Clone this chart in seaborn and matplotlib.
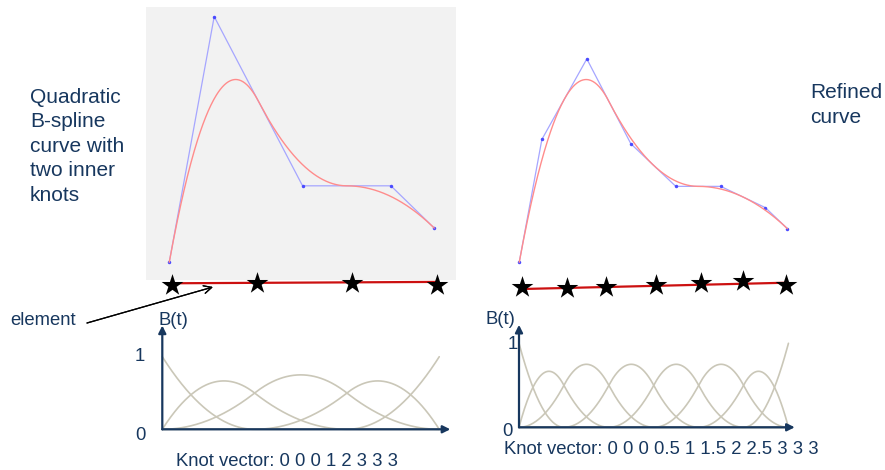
import numpy as np
import matplotlib.pyplot as plt
import seaborn as sns

# quadratic B-spline, two inner knots
ctrl_x = [0.75, 2.2, 5.05, 7.9, 9.3]
ctrl_y = [0.65, 9.65, 3.45, 3.45, 1.9]
knots = [0, 0, 0, 1, 2, 3, 3, 3]

# refined curve (knots inserted at 0.5, 1.5, 2.5)
ref_x = [0.75, 1.48, 2.93, 4.35, 5.8, 7.25, 8.69, 9.4]
ref_y = [0.65, 5.15, 8.1, 4.99, 3.43, 3.43, 2.65, 1.88]
ref_knots = [0, 0, 0, 0.5, 1, 1.5, 2, 2.5, 3, 3, 3]

# element boundaries drawn as stars under each curve
star_x = [0.83, 3.57, 6.65, 9.38]
star_y = [-0.18, -0.12, -0.1, -0.2]
elem_y = [-0.12, -0.07]
ref_star_x = [0.84, 2.28, 3.55, 5.16, 6.62, 7.98, 9.35]
ref_star_y = [-0.27, -0.3, -0.25, -0.18, -0.12, -0.03, -0.18]
ref_elem_y = [-0.33, -0.1]

knot_label = "Knot vector: 0 0 0 1 2 3 3 3"
ref_knot_label = "Knot vector: 0 0 0 0.5 1 1.5 2 2.5 3 3 3"
left_title = ["Quadratic", "B-spline", "curve with", "two inner", "knots"]
right_title = ["Refined", "curve"]

NAVY = "#17375e"
BASIS_C = "#cac7b8"
CURVE_C = "#ff8c8c"
POLY_C = "#a6a6ff"


def basis(kn, p, t):
    kn = np.asarray(kn, float)
    n = len(kn) - p - 1
    t = np.minimum(t, kn[-1] - 1e-9)
    N = np.zeros((len(kn) - 1, len(t)))
    for i in range(len(kn) - 1):
        N[i] = (kn[i] <= t) & (t < kn[i + 1])
    for d in range(1, p + 1):
        for i in range(len(kn) - d - 1):
            a = kn[i + d] - kn[i]
            b = kn[i + d + 1] - kn[i + 1]
            left = (t - kn[i]) / a * N[i] if a > 0 else 0
            right = (kn[i + d + 1] - t) / b * N[i + 1] if b > 0 else 0
            N[i] = left + right
    return N[:n]


sns.set_theme(style="white")
plt.rcParams["font.family"] = ["Liberation Sans", "DejaVu Sans"]

W, H = 885, 470
fig = plt.figure(figsize=(W / 100, H / 100), dpi=100)


def box(l, t, r, b):
    return [l / W, 1 - b / H, (r - l) / W, (b - t) / H]


def px(x, y):
    return x / W, 1 - y / H


t = np.linspace(0, 3, 400)


def draw_curve(ax, cx, cy, kn, sx, sy, ey):
    N = basis(kn, 2, t)
    curve_x = N.T @ np.asarray(cx)
    curve_y = N.T @ np.asarray(cy)
    sns.lineplot(x=cx, y=cy, ax=ax, color=POLY_C, linewidth=0.9,
                 sort=False, estimator=None, marker="o", markersize=2.5,
                 markerfacecolor="#4a4aff", markeredgewidth=0)
    sns.lineplot(x=curve_x, y=curve_y, ax=ax, color=CURVE_C, linewidth=1.0,
                 sort=False, estimator=None)
    sns.lineplot(x=[sx[0], sx[-1]], y=ey, ax=ax, color="#cc1010",
                 linewidth=1.6, sort=False, estimator=None, clip_on=False)
    sns.scatterplot(x=sx, y=sy, ax=ax, marker="*", s=270, color="black",
                    linewidth=0, zorder=5, clip_on=False)
    ax.set_xlim(0, 10)
    ax.set_ylim(0, 10)
    ax.set_xticks([])
    ax.set_yticks([])
    ax.set_xlabel("")
    ax.set_ylabel("")
    for s in ax.spines.values():
        s.set_visible(False)


ax1 = fig.add_axes(box(146, 7, 456, 280))
ax1.set_facecolor("#f2f2f2")
draw_curve(ax1, ctrl_x, ctrl_y, knots, star_x, star_y, elem_y)

ax2 = fig.add_axes(box(496, 7, 806, 280))
ax2.patch.set_alpha(0)
draw_curve(ax2, ref_x, ref_y, ref_knots, ref_star_x, ref_star_y, ref_elem_y)


def draw_basis(ax, kn, xmax, ymax, lab_pos):
    N = basis(kn, 2, t)
    for row in N:
        sns.lineplot(x=t, y=row, ax=ax, color=BASIS_C, linewidth=1.2,
                     estimator=None, sort=False, clip_on=False)
    arrow = dict(arrowstyle="-|>", color=NAVY, lw=1.6, mutation_scale=11,
                 shrinkA=0, shrinkB=0)
    ax.annotate("", xy=(xmax, 0), xytext=(0, 0), arrowprops=arrow)
    ax.annotate("", xy=(0, ymax), xytext=(0, 0), arrowprops=arrow)
    ax.set_xlim(0, 3.2)
    ax.set_axis_off()
    for txt, (x, y) in lab_pos.items():
        ax.text(x, y, txt, color=NAVY, fontsize=13.3, ha="center", va="center")


ax3 = fig.add_axes(box(162.3, 324.8, 457.7, 429.3))
ax3.set_ylim(0, 1.44)
draw_basis(ax3, knots, 3.12, 1.43,
           {"B(t)": (0.12, 1.5), "1": (-0.24, 1.0), "0": (-0.24, -0.08),
            knot_label: (1.35, -0.45)})

ax4 = fig.add_axes(box(519, 322.3, 806.4, 427.3))
ax4.set_ylim(0, 1.25)
draw_basis(ax4, ref_knots, 3.07, 1.22,
           {"B(t)": (-0.21, 1.28), "1": (-0.07, 0.98), "0": (-0.13, -0.05),
            ref_knot_label: (1.59, -0.27)})

for i, line in enumerate(left_title):
    fig.text(*px(30, 103 + 24.5 * i), line, color=NAVY, fontsize=15,
             ha="left", va="baseline")
for i, line in enumerate(right_title):
    fig.text(*px(810, 98.5 + 24.5 * i), line, color=NAVY, fontsize=15,
             ha="left", va="baseline")

fig.text(*px(10, 325), "element", color=NAVY, fontsize=13.3,
         ha="left", va="baseline")
fig.add_artist(plt.annotate("", xy=px(213, 287), xytext=px(87, 323),
                            xycoords="figure fraction",
                            arrowprops=dict(arrowstyle="->", color="black",
                                            lw=0.9, mutation_scale=14,
                                            shrinkA=0, shrinkB=0)))

fig.savefig("out.png", dpi=100)
